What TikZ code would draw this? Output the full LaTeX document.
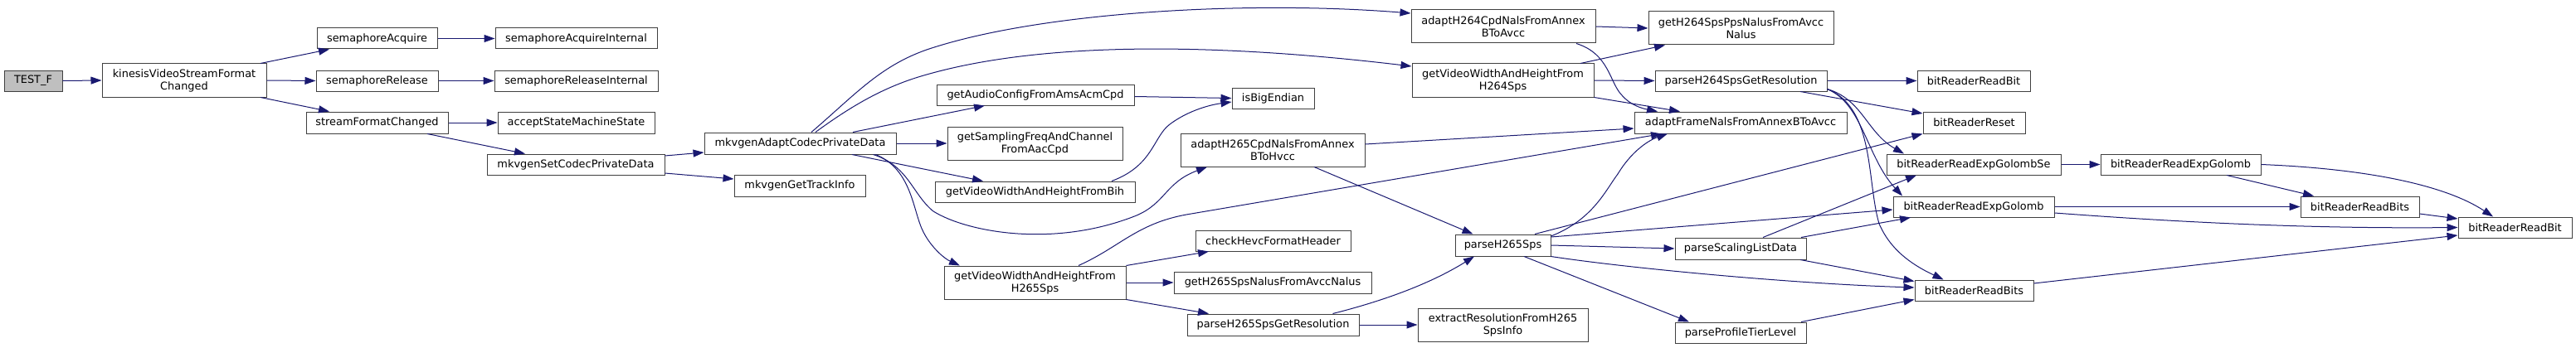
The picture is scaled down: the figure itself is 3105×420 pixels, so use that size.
\documentclass[tikz,border=0pt]{standalone}
\usepackage{fontspec}
\setmainfont{DejaVu Sans}
\usetikzlibrary{arrows.meta}
\definecolor{edgeblue}{HTML}{191970}
\definecolor{nodeborder}{HTML}{404040}
\definecolor{testgrey}{HTML}{BFBFBF}
\tikzset{
  fn/.style={draw=nodeborder, fill=white, line width=1pt, inner sep=0pt,
    minimum height=25pt, font=\fontsize{12.9}{15}\selectfont, text=black, align=center},
  fntwo/.style={fn, minimum height=40pt},
  call/.style={draw=edgeblue, line width=1pt, -{Triangle[length=13pt,width=9pt]}}
}
\begin{document}
\begin{tikzpicture}[x=1pt,y=-1pt]
\useasboundingbox (0,0) rectangle (3105,420);
% nodes
\node[fn, fill=testgrey, minimum width=70pt] (testf) at (40,97.5) {TEST\_F};
\node[fntwo, minimum width=198pt] (kvs) at (222,97) {kinesisVideoStreamFormat\\Changed};
\node[fn, minimum width=145pt] (sa) at (454.5,46.5) {semaphoreAcquire};
\node[fn, minimum width=147pt] (sr) at (454.5,97.5) {semaphoreRelease};
\node[fn, minimum width=171pt, minimum height=26pt] (sfc) at (454.5,148) {streamFormatChanged};
\node[fn, minimum width=195pt] (sai) at (694.5,46.5) {semaphoreAcquireInternal};
\node[fn, minimum width=197pt] (sri) at (694.5,97.5) {semaphoreReleaseInternal};
\node[fn, minimum width=189pt, minimum height=26pt] (assm) at (694.5,148) {acceptStateMachineState};
\node[fn, minimum width=214pt] (msc) at (694,198.5) {mkvgenSetCodecPrivateData};
\node[fn, minimum width=231pt, minimum height=26pt] (macpd) at (964.5,173) {mkvgenAdaptCodecPrivateData};
\node[fn, minimum width=158pt, minimum height=26pt] (mgti) at (964,224) {mkvgenGetTrackInfo};
\node[fn, minimum width=238pt] (gac) at (1248,114.5) {getAudioConfigFromAmsAcmCpd};
\node[fntwo, minimum width=211pt] (gsf) at (1247.5,173) {getSamplingFreqAndChannel\\FromAacCpd};
\node[fn, minimum width=241pt] (gbih) at (1247.5,231.5) {getVideoWidthAndHeightFromBih};
\node[fntwo, minimum width=219pt] (gh265) at (1247.5,341) {getVideoWidthAndHeightFrom\\H265Sps};
\node[fn, minimum width=99pt] (ibe) at (1534.5,118.5) {isBigEndian};
\node[fntwo, minimum width=222pt] (ah265) at (1534,181) {adaptH265CpdNalsFromAnnex\\BToHvcc};
\node[fn, minimum width=187pt] (chk) at (1534.5,290.5) {checkHevcFormatHeader};
\node[fn, minimum width=238pt, minimum height=26pt] (gh265n) at (1534,341) {getH265SpsNalusFromAvccNalus};
\node[fn, minimum width=207pt, minimum height=26pt] (ph265r) at (1534.5,392) {parseH265SpsGetResolution};
\node[fntwo, minimum width=222pt] (ah264) at (1812,32) {adaptH264CpdNalsFromAnnex\\BToAvcc};
\node[fntwo, minimum width=219pt] (gh264) at (1811.5,97) {getVideoWidthAndHeightFrom\\H264Sps};
\node[fn, minimum width=115pt, minimum height=26pt] (ph265) at (1811.5,296) {parseH265Sps};
\node[fntwo, minimum width=205pt] (ext) at (1811.5,392) {extractResolutionFromH265\\SpsInfo};
\node[fntwo, minimum width=223pt] (gpps) at (2098.5,34) {getH264SpsPpsNalusFromAvcc\\Nalus};
\node[fn, minimum width=207pt] (ph264r) at (2098.5,97.5) {parseH264SpsGetResolution};
\node[fn, minimum width=256pt, minimum height=26pt] (afn) at (2098,148) {adaptFrameNalsFromAnnexBToAvcc};
\node[fn, minimum width=158pt, minimum height=26pt] (psld) at (2098,300) {parseScalingListData};
\node[fn, minimum width=158pt] (pptl) at (2098,401.5) {parseProfileTierLevel};
\node[fn, minimum width=136pt] (brb1) at (2379,97.5) {bitReaderReadBit};
\node[fn, minimum width=123pt, minimum height=26pt] (brr) at (2379.5,148) {bitReaderReset};
\node[fn, minimum width=210pt] (bse) at (2379,198.5) {bitReaderReadExpGolombSe};
\node[fn, minimum width=194pt] (beg1) at (2379,249.5) {bitReaderReadExpGolomb};
\node[fn, minimum width=143pt] (bbs1) at (2379.5,350.5) {bitReaderReadBits};
\node[fn, minimum width=193pt] (beg2) at (2628.5,198.5) {bitReaderReadExpGolomb};
\node[fn, minimum width=143pt] (bbs2) at (2844.5,249.5) {bitReaderReadBits};
\node[fn, minimum width=137pt] (brb2) at (3031.5,274.5) {bitReaderReadBit};
% edges
\draw[call] (testf.east) -- (kvs.west);
\draw[call] ([xshift=92pt]kvs.north) -- ([xshift=-57.5pt]sa.south);
\draw[call] (kvs.east) -- (sr.west);
\draw[call] ([xshift=92pt]kvs.south) -- ([xshift=-57.5pt]sfc.north);
\draw[call] (sa.east) -- (sai.west);
\draw[call] (sr.east) -- (sri.west);
\draw[call] (sfc.east) -- (assm.west);
\draw[call] ([xshift=60.5pt]sfc.south) -- ([xshift=-61pt]msc.north);
\draw[call] ([yshift=10.5pt]msc.east) -- ([yshift=-11pt]macpd.west);
\draw[call] ([yshift=-10.5pt]msc.east) -- ([yshift=8pt]mgti.west);
\draw[call] ([xshift=13.5pt]macpd.north) .. controls (1030,115) and (1060,80) .. (1117,60)
   .. controls (1250,15) and (1500,0) .. ([yshift=16pt]ah264.west);
\draw[call] ([xshift=18.5pt]macpd.north) .. controls (1030,125) and (1070,103) .. (1117,90)
   .. controls (1250,52) and (1450,50) .. ([yshift=17pt]gh264.west);
\draw[call] ([xshift=63.5pt]macpd.north) -- ([xshift=-61pt]gac.south);
\draw[call] (macpd.east) -- (gsf.west);
\draw[call] ([xshift=62.5pt]macpd.south) -- ([xshift=-62.5pt]gbih.north);
\draw[call] ([xshift=88pt]macpd.south) .. controls (1095,200) and (1100,235) .. (1125,255)
   .. controls (1165,280) and (1270,300) .. (1370,260)
   .. controls (1405,245) and (1405,220) .. ([xshift=-79pt]ah265.south);
\draw[call] ([xshift=91pt]macpd.south) .. controls (1100,205) and (1100,255) .. (1113,280)
   .. controls (1122,298) and (1138,312) .. ([xshift=-90.5pt]gh265.north);
\draw[call] ([yshift=-2pt]gac.east) -- (ibe.west);
\draw[call] ([xshift=92.5pt]gbih.north) .. controls (1390,200) and (1390,165) .. (1410,150)
   .. controls (1430,135) and (1455,127) .. ([yshift=-4.5pt]ibe.west);
\draw[call] ([xshift=52.5pt]gh265.north) .. controls (1350,298) and (1370,270) .. (1430,259)
   -- ([xshift=-95pt]afn.south);
\draw[call] (gh265.north east) -- ([xshift=-77.5pt]chk.south);
\draw[call] (gh265.east) -- (gh265n.west);
\draw[call] (gh265.south east) -- ([xshift=-77.5pt]ph265r.north);
\draw[call] ([yshift=7pt]ah265.east) -- ([yshift=-7pt]afn.west);
\draw[call] ([xshift=50pt]ah265.south) -- ([xshift=-36pt]ph265.north);
\draw[call] ([xshift=72pt]ph265r.north) .. controls (1660,365) and (1720,345) .. ([xshift=-34.5pt]ph265.south);
\draw[call] (ph265r.east) -- (ext.west);
\draw[call] (ah264.east) -- (gpps.west);
\draw[call] ([xshift=88pt]ah264.south) .. controls (1940,65) and (1940,100) .. (1955,115)
   .. controls (1965,127) and (1980,131) .. ([xshift=-100pt]afn.north);
\draw[call] ([xshift=93.5pt]gh264.north) -- ([xshift=-91.5pt]gpps.south);
\draw[call] (gh264.east) -- (ph264r.west);
\draw[call] (gh264.south east) -- ([xshift=-73pt]afn.north);
\draw[call] ([yshift=11pt]ph265.east) .. controls (1920,265) and (1935,230) .. (1950,210)
   .. controls (1965,185) and (1985,170) .. ([xshift=-88pt]afn.south);
\draw[call] ([xshift=38.5pt]ph265.north) -- (brr.south west);
\draw[call] ([yshift=10pt]ph265.east) -- ([yshift=-3.5pt]beg1.west);
\draw[call] (ph265.east) -- (psld.west);
\draw[call] (ph265.south east) .. controls (1950,322) and (2150,342) .. ([yshift=3.5pt]bbs1.west);
\draw[call] ([xshift=25.5pt]ph265.south) -- ([xshift=-62pt]pptl.north);
\draw[call] (ph264r.east) -- (brb1.west);
\draw[call] ([xshift=71.5pt]ph264r.south) -- ([yshift=11pt]brr.west);
\draw[call] ([yshift=-10pt]ph264r.east) .. controls (2245,120) and (2250,160) .. ([xshift=-84pt]bse.north);
\draw[call] ([yshift=-10pt]ph264r.east) .. controls (2245,125) and (2250,190) .. ([xshift=-86pt]beg1.north);
\draw[call] ([yshift=-10pt]ph264r.east) .. controls (2260,130) and (2250,220) .. (2265,270)
   .. controls (2280,305) and (2310,322) .. ([xshift=-37pt]bbs1.north);
\draw[call] ([xshift=27pt]psld.north) -- ([xshift=-69pt]bse.south);
\draw[call] ([xshift=73pt]psld.north) -- ([xshift=-76pt]beg1.south);
\draw[call] ([xshift=72pt]psld.south) -- ([yshift=11pt]bbs1.west);
\draw[call] ([xshift=73pt]pptl.north) -- ([yshift=-11pt]bbs1.west);
\draw[call] (bse.east) -- (beg2.west);
\draw[call] ([xshift=55.5pt]beg2.south) -- ([xshift=-55.5pt]bbs2.north);
\draw[call] (beg2.east) .. controls (2860,204) and (2950,225) .. ([xshift=-26.5pt]brb2.north);
\draw[call] ([yshift=-8.5pt]bbs2.east) -- ([yshift=10.5pt]brb2.west);
\draw[call] (beg1.east) -- (bbs2.west);
\draw[call] ([yshift=-7.5pt]beg1.east) .. controls (2650,270) and (2800,276) .. (brb2.west);
\draw[call] ([yshift=8.5pt]bbs1.east) -- ([yshift=-9.5pt]brb2.west);
\end{tikzpicture}
\end{document}
